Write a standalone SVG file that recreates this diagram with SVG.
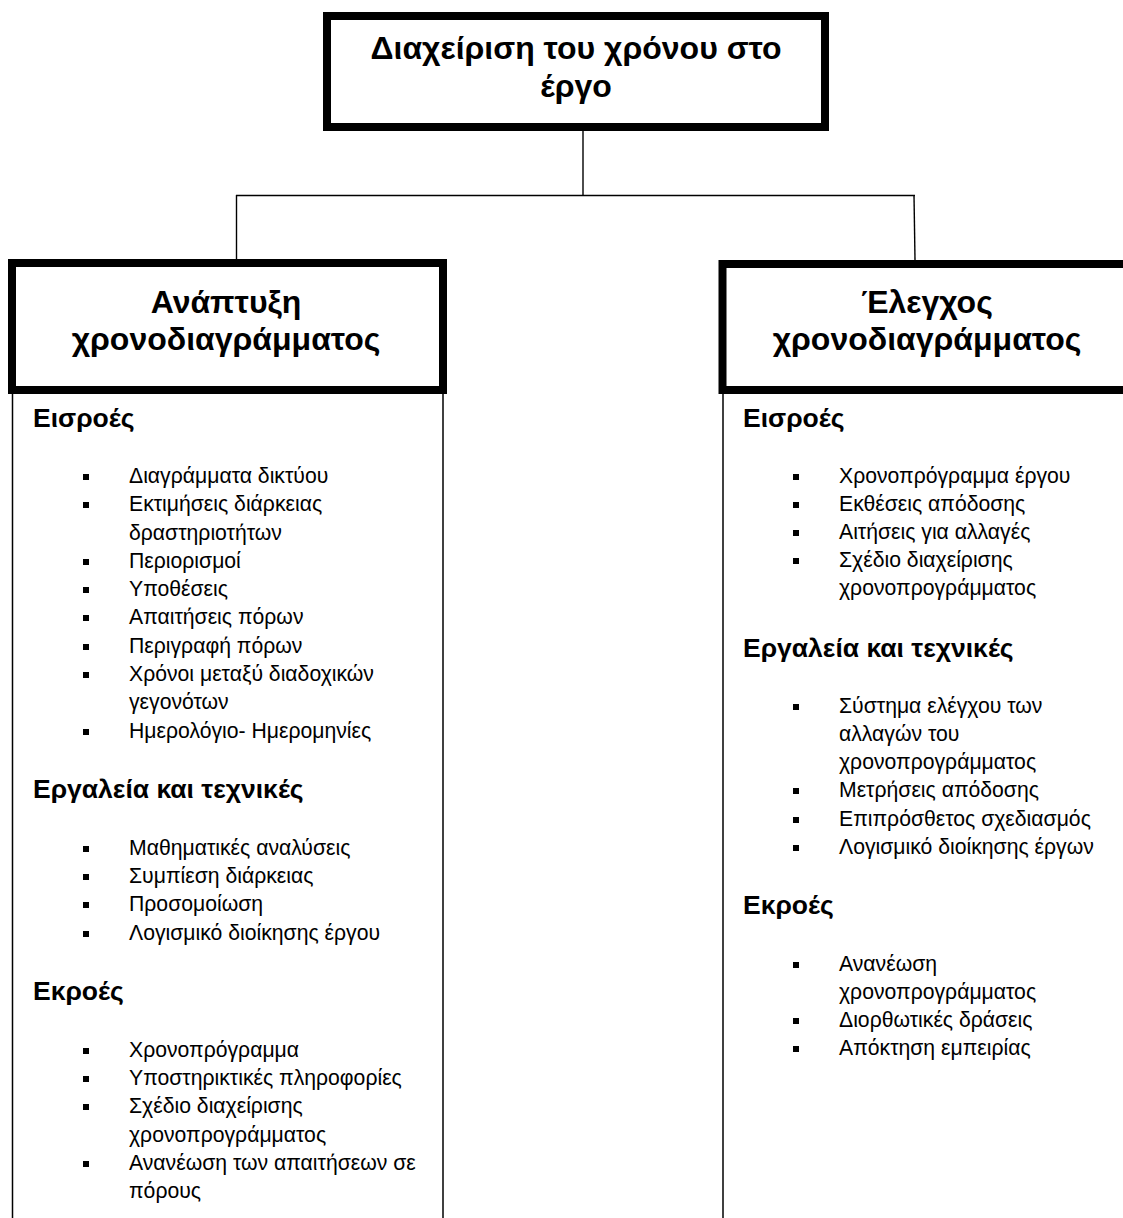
<svg xmlns="http://www.w3.org/2000/svg" width="1123" height="1218" viewBox="0 0 1123 1218">
<style>
text { font-family: "Liberation Sans", Arial, sans-serif; fill: #000; }
.title { font-size: 32px; font-weight: bold; text-anchor: middle; }
.sec { font-size: 26.5px; font-weight: bold; }
.item { font-size: 21.2px; }
.box { fill: #fff; stroke: #000; stroke-width: 8; }
.panel { stroke: #000; stroke-width: 1.5; fill: none; }
.conn { stroke: #000; stroke-width: 1.4; fill: none; }
.bul { fill: #000; }
</style>
<rect width="1123" height="1218" fill="#fff"/>
<g id="connectors">
  <line class="conn" x1="583" y1="131" x2="583" y2="195.5"/>
  <line class="conn" x1="236" y1="195.5" x2="915" y2="195.5"/>
  <line class="conn" x1="236.5" y1="195" x2="236.5" y2="260"/>
  <line class="conn" x1="914" y1="195" x2="915" y2="260"/>
</g>
<g id="node-top">
  <rect class="box" x="327" y="16" width="498" height="111"/>
  <text class="title" x="576" y="59">Διαχείριση του χρόνου στο</text>
  <text class="title" x="576" y="97">έργο</text>
</g>
<g id="node-left">
  <line class="panel" x1="12.5" y1="390" x2="12.5" y2="1218"/>
  <line class="panel" x1="443" y1="390" x2="443" y2="1218"/>
  <rect class="box" x="12" y="263" width="431" height="127"/>
  <text class="title" x="226" y="313">Ανάπτυξη</text>
  <text class="title" x="226" y="350">χρονοδιαγράμματος</text>
  <text class="sec" x="33" y="427">Εισροές</text>
  <g class="item">
    <text x="129" y="483">Διαγράμματα δικτύου</text>
    <text x="129" y="511">Εκτιμήσεις διάρκειας</text>
    <text x="129" y="540">δραστηριοτήτων</text>
    <text x="129" y="568">Περιορισμοί</text>
    <text x="129" y="596">Υποθέσεις</text>
    <text x="129" y="624">Απαιτήσεις πόρων</text>
    <text x="129" y="653">Περιγραφή πόρων</text>
    <text x="129" y="681">Χρόνοι μεταξύ διαδοχικών</text>
    <text x="129" y="709">γεγονότων</text>
    <text x="129" y="738">Ημερολόγιο- Ημερομηνίες</text>
  </g>
  <rect class="bul" x="83" y="474" width="6" height="6"/>
  <rect class="bul" x="83" y="502" width="6" height="6"/>
  <rect class="bul" x="83" y="559" width="6" height="6"/>
  <rect class="bul" x="83" y="587" width="6" height="6"/>
  <rect class="bul" x="83" y="615" width="6" height="6"/>
  <rect class="bul" x="83" y="644" width="6" height="6"/>
  <rect class="bul" x="83" y="672" width="6" height="6"/>
  <rect class="bul" x="83" y="729" width="6" height="6"/>
  <text class="sec" x="33" y="798">Εργαλεία και τεχνικές</text>
  <g class="item">
    <text x="129" y="855">Μαθηματικές αναλύσεις</text>
    <text x="129" y="883">Συμπίεση διάρκειας</text>
    <text x="129" y="911">Προσομοίωση</text>
    <text x="129" y="940">Λογισμικό διοίκησης έργου</text>
  </g>
  <rect class="bul" x="83" y="846" width="6" height="6"/>
  <rect class="bul" x="83" y="874" width="6" height="6"/>
  <rect class="bul" x="83" y="902" width="6" height="6"/>
  <rect class="bul" x="83" y="931" width="6" height="6"/>
  <text class="sec" x="33" y="1000">Εκροές</text>
  <g class="item">
    <text x="129" y="1057">Χρονοπρόγραμμα</text>
    <text x="129" y="1085">Υποστηρικτικές πληροφορίες</text>
    <text x="129" y="1113">Σχέδιο διαχείρισης</text>
    <text x="129" y="1142">χρονοπρογράμματος</text>
    <text x="129" y="1170">Ανανέωση των απαιτήσεων σε</text>
    <text x="129" y="1198">πόρους</text>
  </g>
  <rect class="bul" x="83" y="1048" width="6" height="6"/>
  <rect class="bul" x="83" y="1076" width="6" height="6"/>
  <rect class="bul" x="83" y="1104" width="6" height="6"/>
  <rect class="bul" x="83" y="1161" width="6" height="6"/>
</g>
<g id="node-right">
  <line class="panel" x1="723" y1="390" x2="723" y2="1218"/>
  <rect class="box" x="722.5" y="264" width="431" height="126"/>
  <text class="title" x="927" y="313">Έλεγχος</text>
  <text class="title" x="927" y="350">χρονοδιαγράμματος</text>
  <text class="sec" x="743" y="427">Εισροές</text>
  <g class="item">
    <text x="839" y="483">Χρονοπρόγραμμα έργου</text>
    <text x="839" y="511">Εκθέσεις απόδοσης</text>
    <text x="839" y="539">Αιτήσεις για αλλαγές</text>
    <text x="839" y="567">Σχέδιο διαχείρισης</text>
    <text x="839" y="595">χρονοπρογράμματος</text>
  </g>
  <rect class="bul" x="793" y="474" width="6" height="6"/>
  <rect class="bul" x="793" y="502" width="6" height="6"/>
  <rect class="bul" x="793" y="530" width="6" height="6"/>
  <rect class="bul" x="793" y="558" width="6" height="6"/>
  <text class="sec" x="743" y="657">Εργαλεία και τεχνικές</text>
  <g class="item">
    <text x="839" y="713">Σύστημα ελέγχου των</text>
    <text x="839" y="741">αλλαγών του</text>
    <text x="839" y="769">χρονοπρογράμματος</text>
    <text x="839" y="797">Μετρήσεις απόδοσης</text>
    <text x="839" y="826">Επιπρόσθετος σχεδιασμός</text>
    <text x="839" y="854">Λογισμικό διοίκησης έργων</text>
  </g>
  <rect class="bul" x="793" y="704" width="6" height="6"/>
  <rect class="bul" x="793" y="788" width="6" height="6"/>
  <rect class="bul" x="793" y="817" width="6" height="6"/>
  <rect class="bul" x="793" y="845" width="6" height="6"/>
  <text class="sec" x="743" y="914">Εκροές</text>
  <g class="item">
    <text x="839" y="971">Ανανέωση</text>
    <text x="839" y="999">χρονοπρογράμματος</text>
    <text x="839" y="1027">Διορθωτικές δράσεις</text>
    <text x="839" y="1055">Απόκτηση εμπειρίας</text>
  </g>
  <rect class="bul" x="793" y="962" width="6" height="6"/>
  <rect class="bul" x="793" y="1018" width="6" height="6"/>
  <rect class="bul" x="793" y="1046" width="6" height="6"/>
</g>
</svg>
